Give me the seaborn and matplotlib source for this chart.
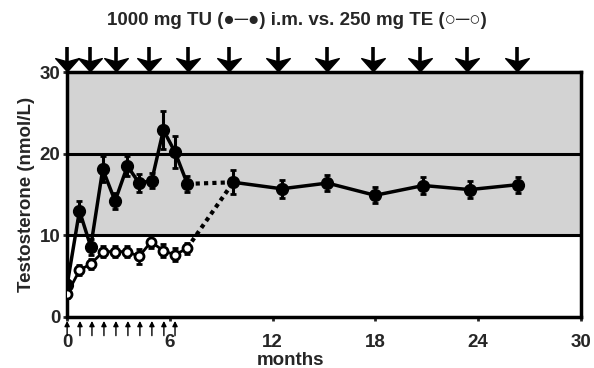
import matplotlib
matplotlib.use("Agg")
import matplotlib.pyplot as plt
from matplotlib.path import Path
import seaborn as sns
import pandas as pd

# ---- data ----
tu_months = [0, 0.72, 1.38, 2.08, 2.8, 3.52, 4.2, 4.94, 5.62, 6.3, 7.02, 9.7, 12.53, 15.2, 17.98, 20.8, 23.5, 26.3]
tu_vals = [3.9, 13.0, 8.6, 18.1, 14.2, 18.5, 16.4, 16.7, 22.9, 20.2, 16.3, 16.5, 15.7, 16.4, 14.9, 16.1, 15.6, 16.2]
tu_err = [0.6, 1.2, 1.0, 1.6, 1.0, 1.2, 1.1, 0.9, 2.3, 2.0, 1.0, 1.5, 1.1, 1.0, 1.0, 1.0, 1.0, 1.0]
te_months = [0, 0.72, 1.38, 2.12, 2.8, 3.52, 4.2, 4.9, 5.62, 6.3, 7.0]
te_vals = [2.8, 5.7, 6.5, 8.0, 8.0, 8.0, 7.4, 9.2, 8.1, 7.6, 8.4]
te_err = [0.5, 0.6, 0.6, 0.7, 0.7, 0.7, 0.9, 0.8, 0.8, 0.8, 0.7]
tu_injections = [0, 1.35, 2.88, 4.8, 7.08, 9.47, 12.3, 15.15, 17.85, 20.6, 23.35, 26.25]
te_injections = [0, 0.75, 1.45, 2.15, 2.85, 3.55, 4.25, 4.95, 5.65, 6.3]
x_ticks = [0, 6, 12, 18, 24, 30]
y_ticks = [0, 10, 20, 30]
normal_range = [10, 30]
title = "1000 mg TU (\u25CF\u2500\u25CF) i.m. vs. 250 mg TE (\u25CB\u2500\u25CB)"

sns.set_style("ticks")
plt.rcParams['font.family'] = ['Liberation Sans', 'DejaVu Sans']
plt.rcParams['font.weight'] = 'bold'

FS = 13.5
fig = plt.figure(figsize=(5.94, 3.68), dpi=100)
ax = fig.add_axes([0.113, 0.139, 0.865, 0.665])

# normal range band
ax.axhspan(normal_range[0], normal_range[1], color="#d3d3d3", zorder=0)
ax.axhline(10, color="black", lw=2.2, zorder=1)
ax.axhline(20, color="black", lw=2.2, zorder=1)

tu_df = pd.DataFrame({"m": tu_months, "v": tu_vals})
te_df = pd.DataFrame({"m": te_months, "v": te_vals})
n_tu_early = 11  # points up to month 7

# solid segments
sns.lineplot(data=tu_df.iloc[:n_tu_early], x="m", y="v", ax=ax, color="black", lw=2.5, zorder=3, sort=False)
sns.lineplot(data=tu_df.iloc[n_tu_early:], x="m", y="v", ax=ax, color="black", lw=2.5, zorder=3, sort=False)
sns.lineplot(data=te_df, x="m", y="v", ax=ax, color="black", lw=2.0, zorder=3, sort=False)
# dotted connectors
ax.plot([tu_months[n_tu_early - 1], tu_months[n_tu_early]], [tu_vals[n_tu_early - 1], tu_vals[n_tu_early]],
        color="black", lw=3, ls=(0, (1, 1)), zorder=3)
ax.plot([te_months[-1], tu_months[n_tu_early]], [te_vals[-1], tu_vals[n_tu_early]],
        color="black", lw=3, ls=(0, (1, 1)), zorder=3)

# error bars + markers
ax.errorbar(tu_months, tu_vals, yerr=tu_err, fmt="o", color="black", ms=8.5, elinewidth=2.2,
            capsize=2.5, capthick=2, zorder=4)
ax.errorbar(te_months, te_vals, yerr=te_err, fmt="o", color="black", mfc="white", mec="black", mew=2,
            ms=6.5, elinewidth=1.8, capsize=2, capthick=1.5, zorder=5)

# big injection arrows (TU) above the plot: arrow head + stem
head = Path([(0, -0.62), (-1, 0.5), (0, 0.22), (1, 0.5), (0, -0.62)],
            [Path.MOVETO, Path.LINETO, Path.LINETO, Path.LINETO, Path.CLOSEPOLY])
n_big = len(tu_injections)
ax.vlines(tu_injections, [30.8] * n_big, [33.1] * n_big, color="black", lw=2.6, clip_on=False, zorder=6)
ax.plot(tu_injections, [30.95] * n_big, ls="none", marker=head, ms=17, color="black",
        clip_on=False, zorder=6)

# small injection arrows (TE) below the axis
for m in te_injections:
    ax.annotate("", xy=(m, -0.5), xytext=(m, -2.3), annotation_clip=False,
                arrowprops=dict(arrowstyle="-|>,head_width=0.15,head_length=0.3", color="black", lw=1.0,
                                shrinkA=0, shrinkB=0))

ax.set_xlim(0, 30)
ax.set_ylim(0, 30)
ax.set_xticks(x_ticks)
ax.set_yticks(y_ticks)
ax.tick_params(axis="both", labelsize=FS, width=2, length=3, direction="out")
ax.tick_params(axis="x", pad=9)
ax.tick_params(axis="y", pad=2)
for lab in ax.get_xticklabels() + ax.get_yticklabels():
    lab.set_fontweight("bold")
for s in ax.spines.values():
    s.set_visible(True)
    s.set_linewidth(2.5)
    s.set_color("black")

ax.set_xlabel("months", fontsize=FS, fontweight="bold", labelpad=0)
ax.xaxis.set_label_coords(0.434, -0.145)
ax.set_ylabel("Testosterone (nmol/L)", fontsize=FS, fontweight="bold", labelpad=3)

fig.text(0.5, 0.945, title, ha="center", va="center", fontsize=FS, fontweight="bold",
         family=["Liberation Sans", "DejaVu Sans"])

fig.savefig("out.png", dpi=100)
